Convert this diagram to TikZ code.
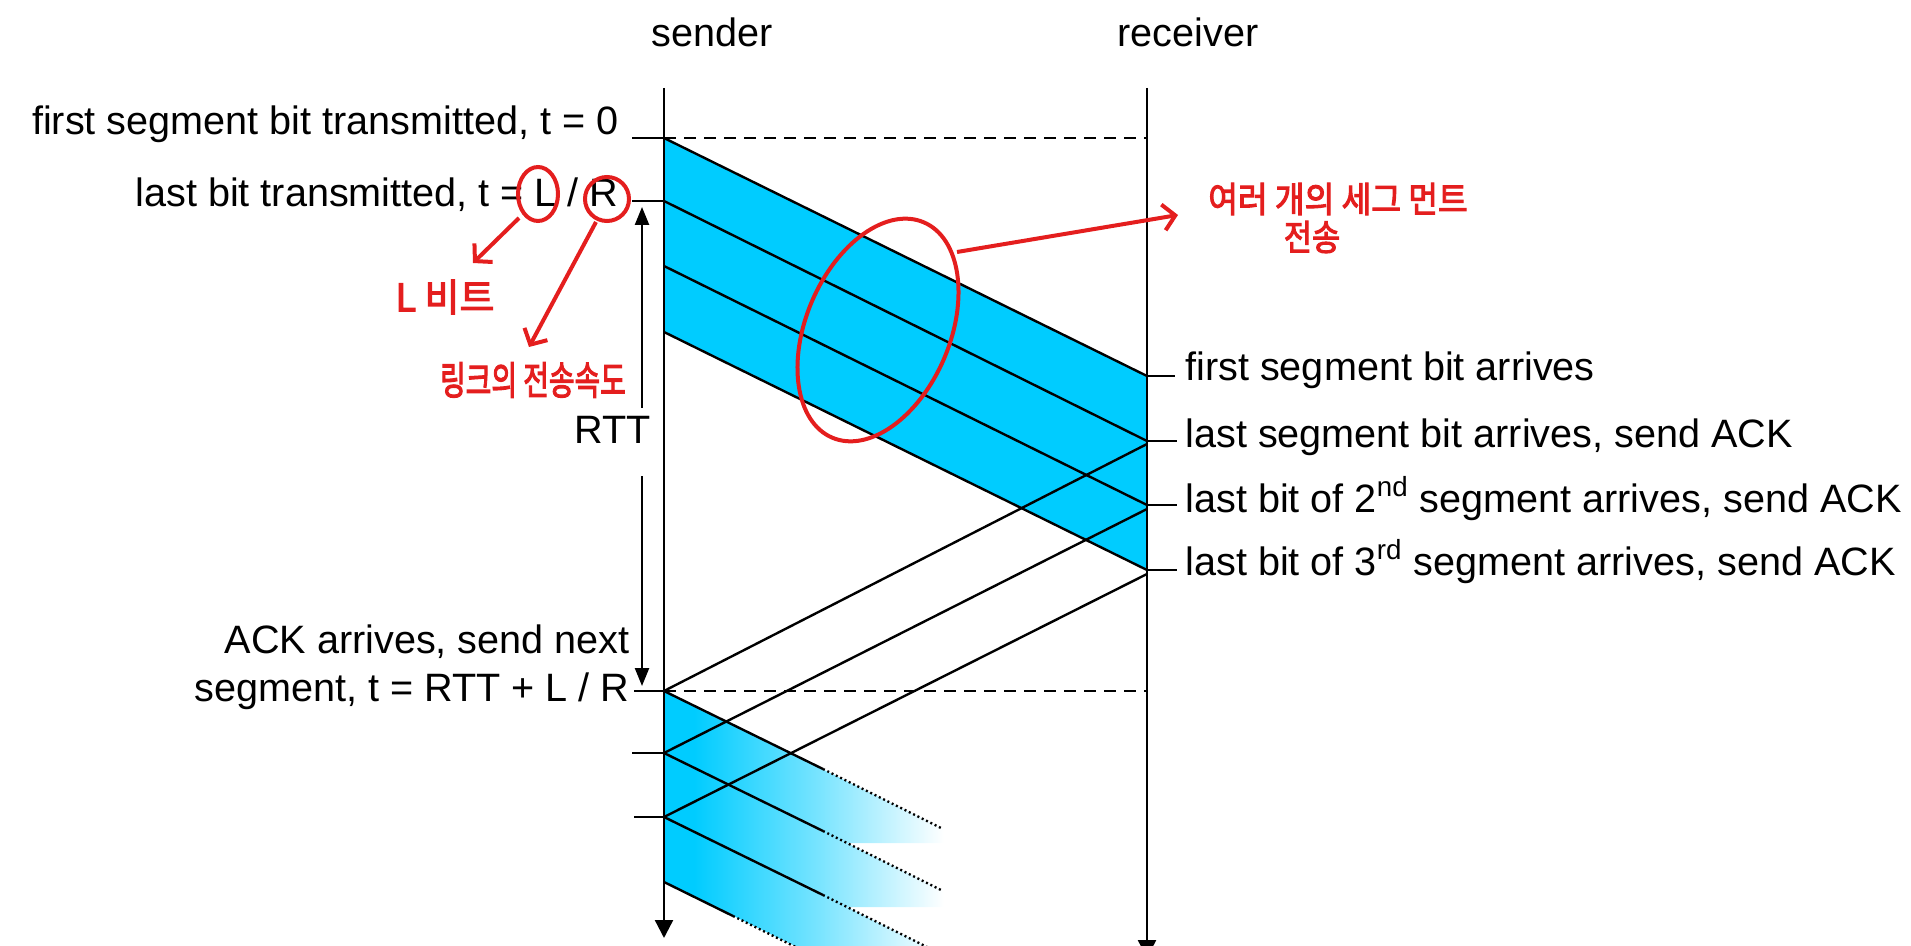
\documentclass[tikz,border=0pt]{standalone}
\usepackage{fontspec}
\setmainfont{Liberation Sans}
\newfontfamily\kr[FakeBold=3]{Noto Sans CJK KR}
\usetikzlibrary{arrows.meta}
\definecolor{segcyan}{RGB}{0,204,255}
\definecolor{pen}{RGB}{228,30,30}
\pgfdeclarehorizontalshading{segfade}{100bp}{color(0bp)=(segcyan); color(30bp)=(segcyan); color(50bp)=(segcyan!55!white); color(72bp)=(white); color(100bp)=(white)}
\begin{document}
\begin{tikzpicture}[x=0.5pt,y=-0.5pt,
  lbl/.style={font=\fontsize{19.8}{23}\selectfont, inner sep=0pt},
  axis/.style={line width=1.2pt},
  seg/.style={line width=1.2pt},
  tick/.style={line width=1.2pt},
  dashline/.style={line width=1.2pt, dash pattern=on 6pt off 4pt},
  fadeline/.style={line width=1.2pt, dash pattern=on 1pt off 1.4pt},
  bigtip/.style={-{Triangle[width=9pt,length=9pt]}},
  smalltip/.style={-{Triangle[width=7pt,length=9pt]}},
  annot/.style={draw=pen, line width=2pt},
  barb/.style={-{Straight Barb[length=6pt,width=13pt]}},
  hand/.style={text=pen, inner sep=0pt, font=\kr\fontsize{17}{19}\selectfont}]
\useasboundingbox (0,0) rectangle (1911,946);

% --- coordinates ---
\coordinate (S0) at (664,88);  \coordinate (S1) at (664,938);
\coordinate (R0) at (1147,88); \coordinate (R1) at (1147,958);
\coordinate (a0) at (664,138); \coordinate (a1) at (664,201);
\coordinate (a2) at (664,266); \coordinate (a3) at (664,332);
\coordinate (b0) at (1147,376); \coordinate (b1) at (1147,441);
\coordinate (b2) at (1147,505); \coordinate (b3) at (1147,570);
\coordinate (k1) at (1147,444); \coordinate (k2) at (1147,509);
\coordinate (k3) at (1147,574);
\coordinate (c0) at (664,691); \coordinate (c1) at (664,753);
\coordinate (c2) at (664,817); \coordinate (c3) at (664,882);

% --- first batch band ---
\fill[segcyan] (a0) -- (b0) -- (b3) -- (a3) -- cycle;

% --- second batch fading band ---
\begin{scope}
  \clip (c0) -- (962,838) -- (962,843) -- (846,843) -- (c1) -- cycle
        (c1) -- (962,900) -- (962,907) -- (846,907) -- (c2) -- cycle
        (c2) -- (962,964) -- (962,971) -- (846,971) -- (c3) -- cycle;
  \shade[shading=segfade] (664,680) rectangle (962,980);
\end{scope}

% --- axes ---
\draw[axis,bigtip] (S0) -- (S1);
\draw[axis,bigtip] (R0) -- (R1);
\node[lbl, anchor=base] (snd) at (712,47) {sender};
\node[lbl, anchor=base] (rcv) at (1188,47) {receiver};

% --- dashed lines ---
\draw[dashline] (a0) -- (R0 |- a0);
\draw[dashline] (c0) -- (R0 |- c0);

% --- segment lines (first batch) ---
\draw[seg] (a0) -- (b0);
\draw[seg] (a1) -- (b1);
\draw[seg] (a2) -- (b2);
\draw[seg] (a3) -- (b3);

% --- ACK lines ---
\draw[seg] (k1) -- (c0);
\draw[seg] (k2) -- (c1);
\draw[seg] (k3) -- (c2);

% --- second batch lines ---
\coordinate (d0) at (823,769); \coordinate (e0) at (943,829);
\coordinate (d1) at (823,831); \coordinate (e1) at (943,891);
\coordinate (d2) at (823,895); \coordinate (e2) at (943,955);
\coordinate (d3) at (733,916); \coordinate (e3) at (943,1020);
\draw[seg] (c0) -- (d0); \draw[fadeline] (d0) -- (e0);
\draw[seg] (c1) -- (d1); \draw[fadeline] (d1) -- (e1);
\draw[seg] (c2) -- (d2); \draw[fadeline] (d2) -- (e2);
\draw[seg] (c3) -- (d3); \draw[fadeline] (d3) -- (e3);

% --- ticks ---
\draw[tick] (a0) -- ++(-32,0);
\draw[tick] (a1) -- ++(-32,0);
\draw[tick] (c0) -- ++(-30,0);
\draw[tick] (c1) -- ++(-32,0);
\draw[tick] (c2) -- ++(-30,0);
\draw[tick] (b0) -- ++(28,0);
\draw[tick] (b1) -- ++(30,0);
\draw[tick] (b2) -- ++(30,0);
\draw[tick] (b3) -- ++(30,0);

% --- sender-side labels ---
\node[lbl, anchor=base east] (t0) at (619,135) {first segment bit transmitted, t = 0};
\node[lbl, anchor=base east] (tLR) at (619,207) {last bit transmitted, t = L / R};
\node[lbl, anchor=base east] (ack1) at (630,653) {ACK arrives, send next};
\node[lbl, anchor=base east] (ack2) at (630,701) {segment, t = RTT + L / R};

% --- RTT arrow ---
\node[lbl] (rtt) at (613,430) {RTT};
\coordinate (rttTop) at (642,207); \coordinate (rttA) at (642,408);
\coordinate (rttBot) at (642,686); \coordinate (rttB) at (642,476);
\draw[line width=1.2pt,smalltip] (rttA) -- (rttTop);
\draw[line width=1.2pt,smalltip] (rttB) -- (rttBot);

% --- receiver-side labels ---
\node[lbl, anchor=base west] (r0) at (1185,381) {first segment bit arrives};
\node[lbl, anchor=base west] (r1) at (1185,447) {last segment bit arrives, send ACK};
\node[lbl, anchor=base west] (r2) at (1185,512) {last bit of 2\textsuperscript{nd} segment arrives, send ACK};
\node[lbl, anchor=base west] (r3) at (1185,575) {last bit of 3\textsuperscript{rd} segment arrives, send ACK};

% --- red annotations ---
\draw[annot] (538,194) ellipse [x radius=10pt, y radius=13.5pt];
\draw[annot] (607,199) ellipse [x radius=11pt, y radius=11pt];
\coordinate (lA) at (519,218); \coordinate (lB) at (473,263);
\coordinate (rA) at (596,222); \coordinate (rB) at (529,347);
\draw[annot,barb] (lA) -- (lB);
\draw[annot,barb] (rA) -- (rB);
\node[hand, font=\kr\fontsize{19}{21}\selectfont] (lbit) at (445,297) {L 비트};
\node[hand] (link) at (533,380) {\scalebox{0.82}[1.15]{링크의 전송속도}};

\draw[annot, rotate around={67:(878,330)}] (878,330) ellipse [x radius=58.5pt, y radius=36pt];
\coordinate (eA) at (957,252); \coordinate (eB) at (1178,215);
\draw[annot,barb] (eA) -- (eB);
\node[hand] (multi1) at (1338,199) {\scalebox{0.95}[1.05]{여러 개의 세그 먼트}};
\node[hand] (multi2) at (1312,237) {\scalebox{0.9}[1.05]{전송}};
\end{tikzpicture}
\end{document}
